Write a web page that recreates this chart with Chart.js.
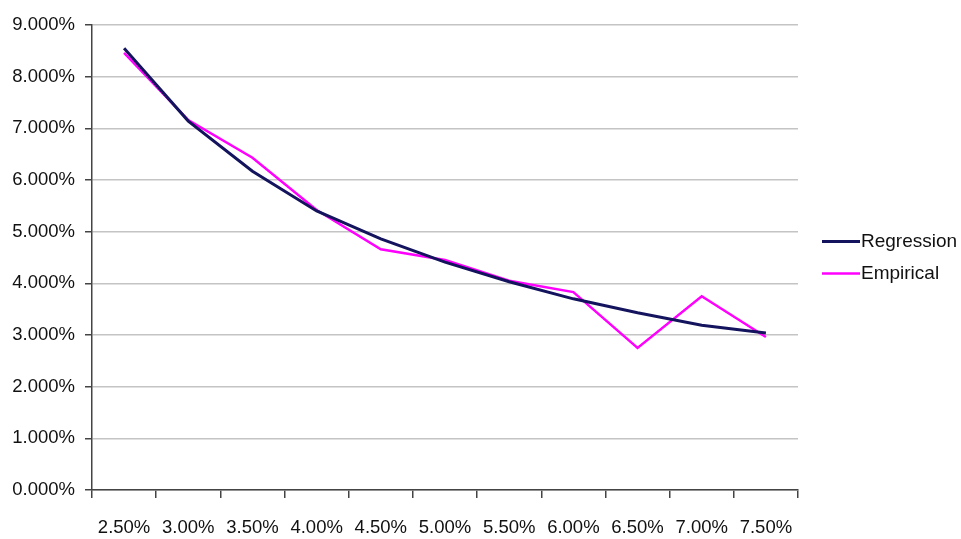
<!DOCTYPE html>
<html>
<head>
<meta charset="utf-8">
<script src="https://cdn.jsdelivr.net/npm/chart.js@4.4.1/dist/chart.umd.min.js"></script>
<style>
  html, body { margin: 0; padding: 0; background: #fff; }
  #wrap { width: 961px; height: 539px; }
</style>
</head>
<body>
<div id="wrap"><canvas id="rateChart"></canvas></div>
<script>
// categories on the x axis
const rateLabels = ["2.50%", "3.00%", "3.50%", "4.00%", "4.50%", "5.00%", "5.50%", "6.00%", "6.50%", "7.00%", "7.50%"];

// series values (in percent)
const regression = [8.55, 7.14, 6.17, 5.40, 4.86, 4.41, 4.03, 3.70, 3.43, 3.19, 3.04];
const empirical  = [8.46, 7.16, 6.43, 5.42, 4.66, 4.45, 4.05, 3.83, 2.75, 3.75, 2.96];

// y ticks
const yTicks = [0, 1, 2, 3, 4, 5, 6, 7, 8, 9];

const font = "'Liberation Sans', Arial, sans-serif";

// small legend on the right, line + label
const sideLegend = {
    id: "sideLegend",
    afterDraw(chart) {
        const ctx = chart.ctx;
        const area = chart.chartArea;
        const mid = (area.top + area.bottom) / 2;
        const rows = [mid - 16, mid + 16];
        chart.data.datasets.forEach((ds, i) => {
            const y = rows[i];
            ctx.save();
            ctx.strokeStyle = ds.borderColor;
            ctx.lineWidth = ds.borderWidth;
            ctx.beginPath();
            ctx.moveTo(area.right + 24, y);
            ctx.lineTo(area.right + 62, y);
            ctx.stroke();
            ctx.fillStyle = "#111";
            ctx.font = "19px " + font;
            ctx.textBaseline = "middle";
            ctx.fillText(ds.label, area.right + 63, y);
            ctx.restore();
        });
    }
};

new Chart(document.getElementById("rateChart"), {
    type: "line",
    data: {
        labels: rateLabels,
        datasets: [
            {
                label: "Regression",
                data: regression,
                borderColor: "#14145e",
                borderWidth: 3,
                pointRadius: 0,
                tension: 0
            },
            {
                label: "Empirical",
                data: empirical,
                borderColor: "#ff00ff",
                borderWidth: 2.5,
                pointRadius: 0,
                tension: 0
            }
        ]
    },
    options: {
        responsive: true,
        maintainAspectRatio: false,
        animation: false,
        layout: { padding: { top: 25, right: 163, left: 0, bottom: 0 } },
        plugins: {
            legend: { display: false },
            tooltip: { enabled: false }
        },
        scales: {
            x: {
                offset: true,
                grid: {
                    offset: true,
                    drawOnChartArea: false,
                    drawTicks: true,
                    tickLength: 8,
                    tickColor: "#444",
                    lineWidth: 1.5
                },
                border: { display: true, color: "#444", width: 1.5 },
                ticks: {
                    color: "#111",
                    font: { family: font, size: 18.5 },
                    padding: 19,
                    maxRotation: 0,
                    autoSkip: false
                },
                afterFit: (scale) => { scale.height = 49; }
            },
            y: {
                min: 0,
                max: 9,
                afterBuildTicks: (scale) => { scale.ticks = yTicks.map(v => ({ value: v })); },
                grid: {
                    color: "#c4c4c4",
                    lineWidth: 1.5,
                    tickLength: 7,
                    tickColor: "#444"
                },
                border: { display: true, color: "#444", width: 1.5 },
                ticks: {
                    color: "#111",
                    font: { family: font, size: 18.5 },
                    padding: 10,
                    callback: (v) => v.toFixed(3) + "%"
                },
                afterFit: (scale) => { scale.width = 92; }
            }
        }
    },
    plugins: [sideLegend]
});
</script>
</body>
</html>
